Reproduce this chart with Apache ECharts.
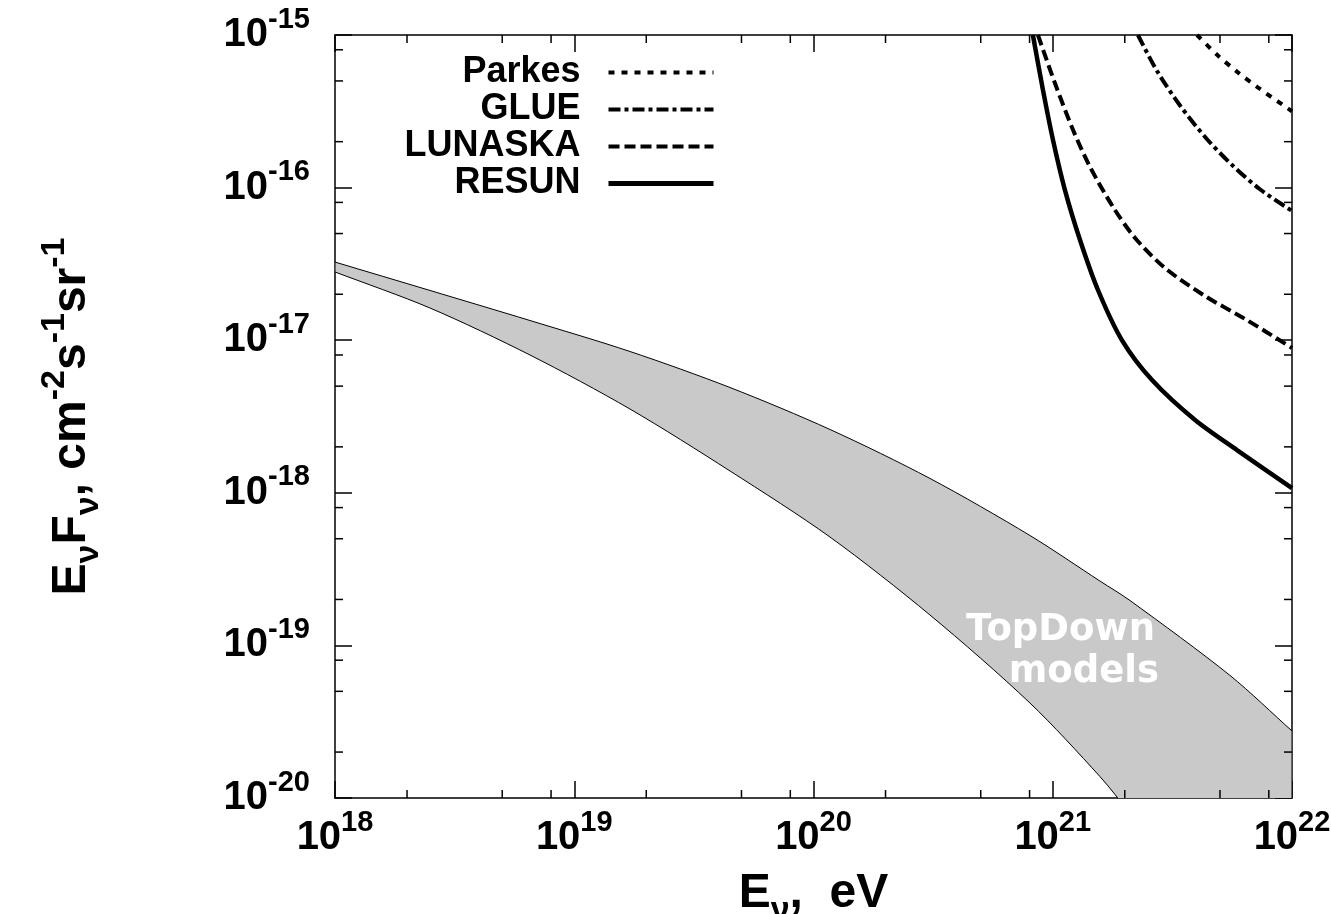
<!DOCTYPE html>
<html>
<head>
<meta charset="utf-8">
<title>TopDown models</title>
<script src="https://cdn.jsdelivr.net/npm/echarts@6/dist/echarts.min.js"></script>
<style>
  html, body { margin: 0; padding: 0; background: #fff; }
  #chart { width: 1331px; height: 914px; }
</style>
</head>
<body>
<div id="chart"></div>
<script>
// values are log10 of the numbers (E in eV, E*F in cm^-2 s^-1 sr^-1)
const parkesLogE = [21.603, 21.687, 21.770, 21.854, 22.0]
const parkesLogF = [-15.0, -15.13, -15.24, -15.34, -15.50]

const glueLogE = [21.356, 21.436, 21.532, 21.645, 21.753, 21.866, 22.0]
const glueLogF = [-15.0, -15.236, -15.462, -15.683, -15.857, -16.011, -16.153]

const lunaskaLogE = [20.938, 21.009, 21.085, 21.156, 21.252, 21.344, 21.469, 21.636, 21.804, 22.0]
const lunaskaLogF = [-15.0, -15.315, -15.623, -15.865, -16.127, -16.33, -16.527, -16.71, -16.861, -17.051]

const resunLogE = [20.917, 20.959, 21.001, 21.051, 21.114, 21.189, 21.289, 21.415, 21.595, 21.77, 22.0]
const resunLogF = [-15.0, -15.36, -15.688, -16.016, -16.343, -16.671, -16.999, -17.261, -17.523, -17.72, -17.969]

// TopDown models band (upper and lower edge)
const bandLogE = [18.0, 18.397, 18.815, 19.233, 19.651, 20.069, 20.487, 20.905, 21.197, 21.323, 21.741, 22.0]
const bandUpperLogF = [-16.488, -16.674, -16.871, -17.074, -17.31, -17.585, -17.906, -18.28, -18.578, -18.706, -19.197, -19.561]
const bandLowerLogF = [-16.553, -16.789, -17.097, -17.451, -17.857, -18.29, -18.801, -19.378, -19.859, -20.1, -20.9, -21.4]

// axes
const xMin = 1e18, xMax = 1e22
const yMin = 1e-20, yMax = 1e-15
const minorSteps = [2, 5, 8]
const xDecades = [18, 19, 20, 21]
const yDecades = [-20, -19, -18, -17, -16]

const FONT = "'Liberation Sans', Arial, Helvetica, sans-serif"

const toPairs = (le, lf) => le.map((e, i) => [Math.pow(10, e), Math.pow(10, lf[i])])
const bandUpper = toPairs(bandLogE, bandUpperLogF)
const bandLower = toPairs(bandLogE, bandLowerLogF)

const powLabel = (v) => "{b|10}{s|" + Math.round(Math.log10(v)) + "}"
const tickRich = {
  b: { fontSize: 40, lineHeight: 50, verticalAlign: "bottom" },
  s: { fontSize: 29, lineHeight: 29, verticalAlign: "top" },
}
const nameRich = {
  b: { fontSize: 48, lineHeight: 68, verticalAlign: "middle" },
  sub: { fontSize: 34, lineHeight: 34, verticalAlign: "bottom" },
  sup: { fontSize: 34, lineHeight: 34, verticalAlign: "top" },
}

const frameLine = { show: true, onZero: false, lineStyle: { color: "#000", width: 1.5 } }
const majorTick = { show: true, inside: true, length: 17, lineStyle: { color: "#000", width: 1.5 } }

const curve = (name, le, lf, width, type) => ({
  type: "line",
  name,
  data: toPairs(le, lf),
  symbol: "none",
  smooth: 0.3,
  z: 3,
  itemStyle: { color: "#000" },
  lineStyle: { color: "#000", width, type },
})

const myChart = echarts.init(document.getElementById("chart"))

const option = {
  animation: false,
  backgroundColor: "#fff",
  grid: { left: 335, right: 39, top: 35, bottom: 116, outerBoundsMode: "none", containLabel: false },
  legend: {
    orient: "vertical",
    align: "right",
    right: 610,
    top: 49,
    padding: 5,
    itemWidth: 105,
    itemHeight: 4,
    itemGap: 0,
    selectedMode: false,
    itemStyle: { opacity: 0 },
    textStyle: { fontFamily: FONT, fontWeight: "bold", fontSize: 36, lineHeight: 37, color: "#000", padding: [0, 23, 0, 0] },
    lineStyle: { width: 4 },
    data: ["Parkes", "GLUE", "LUNASKA", { name: "RESUN", lineStyle: { width: 5 } }],
  },
  xAxis: [
    {
      type: "log",
      min: xMin,
      max: xMax,
      position: "bottom",
      axisLine: frameLine,
      axisTick: majorTick,
      splitLine: { show: false },
      axisLabel: {
        margin: 10,
        formatter: powLabel,
        fontFamily: FONT,
        fontWeight: "bold",
        color: "#000",
        rich: tickRich,
      },
      name: "{b|E}{sub|ν}{b|,  eV}",
      nameLocation: "middle",
      nameGap: 62,
      nameTextStyle: { fontFamily: FONT, fontWeight: "bold", color: "#000", rich: nameRich },
    },
    {
      type: "log",
      min: xMin,
      max: xMax,
      position: "top",
      axisLine: frameLine,
      axisTick: majorTick,
      axisLabel: { show: false },
      splitLine: { show: false },
    },
  ],
  yAxis: [
    {
      type: "log",
      min: yMin,
      max: yMax,
      position: "left",
      axisLine: frameLine,
      axisTick: majorTick,
      splitLine: { show: false },
      axisLabel: {
        margin: 25,
        padding: [0, 0, 10, 0],
        formatter: powLabel,
        fontFamily: FONT,
        fontWeight: "bold",
        color: "#000",
        rich: tickRich,
      },
      name: "{b|E}{sub|ν}{b|F}{sub|ν}{b|, cm}{sup|-2}{b|s}{sup|-1}{b|sr}{sup|-1}",
      nameLocation: "middle",
      nameGap: 229,
      nameTextStyle: { fontFamily: FONT, fontWeight: "bold", color: "#000", rich: nameRich },
    },
    {
      type: "log",
      min: yMin,
      max: yMax,
      position: "right",
      axisLine: frameLine,
      axisTick: majorTick,
      axisLabel: { show: false },
      splitLine: { show: false },
    },
  ],
  graphic: [
    {
      type: "text",
      x: 1155,
      y: 649,
      silent: true,
      z: 10,
      style: { text: "TopDown", fill: "#fff", textAlign: "right", textVerticalAlign: "bottom", font: "bold 37px 'DejaVu Sans', sans-serif" },
    },
    {
      type: "text",
      x: 1159,
      y: 691,
      silent: true,
      z: 10,
      style: { text: "models", fill: "#fff", textAlign: "right", textVerticalAlign: "bottom", font: "bold 37px 'DejaVu Sans', sans-serif" },
    },
  ],
  series: [
    {
      // grey band between the upper and lower model curves, thin black outline
      type: "custom",
      name: "band",
      silent: true,
      z: 1,
      data: [[1e20, 1e-18]],
      renderItem: (params, api) => {
        const cs = params.coordSys
        const up = bandUpper.map((p) => api.coord(p))
        const low = bandLower.map((p) => api.coord(p)).reverse()
        // corner points doubled so the smoothing keeps the ends square
        const pts = [up[0]].concat(up, [up[up.length - 1], low[0]], low, [low[low.length - 1]])
        return {
          type: "polygon",
          shape: { points: pts, smooth: 0.3 },
          style: { fill: "#c9c9c9", stroke: "#000", lineWidth: 1 },
          clipPath: { type: "rect", shape: { x: cs.x, y: cs.y, width: cs.width, height: cs.height } },
        }
      },
    },
    curve("Parkes", parkesLogE, parkesLogF, 4, [6, 7]),
    curve("GLUE", glueLogE, glueLogF, 4, [12, 4, 4, 4]),
    curve("LUNASKA", lunaskaLogE, lunaskaLogF, 4, [11, 5]),
    curve("RESUN", resunLogE, resunLogF, 4.5, "solid"),
    {
      // minor ticks at 2, 5, 8 of each decade, on all four sides
      type: "custom",
      name: "minorTicks",
      silent: true,
      z: 5,
      data: [[1e20, 1e-18]],
      renderItem: (params, api) => {
        const cs = params.coordSys
        const style = { stroke: "#000", lineWidth: 1.5 }
        const children = []
        xDecades.forEach((d) => {
          minorSteps.forEach((m) => {
            const x = api.coord([m * Math.pow(10, d), yMin])[0]
            children.push({ type: "line", shape: { x1: x, y1: cs.y + cs.height, x2: x, y2: cs.y + cs.height - 8 }, style })
            children.push({ type: "line", shape: { x1: x, y1: cs.y, x2: x, y2: cs.y + 8 }, style })
          })
        })
        yDecades.forEach((d) => {
          minorSteps.forEach((m) => {
            const y = api.coord([xMin, m * Math.pow(10, d)])[1]
            children.push({ type: "line", shape: { x1: cs.x, y1: y, x2: cs.x + 8, y2: y }, style })
            children.push({ type: "line", shape: { x1: cs.x + cs.width, y1: y, x2: cs.x + cs.width - 8, y2: y }, style })
          })
        })
        return { type: "group", children }
      },
    },
  ],
}

myChart.setOption(option)
</script>
</body>
</html>
